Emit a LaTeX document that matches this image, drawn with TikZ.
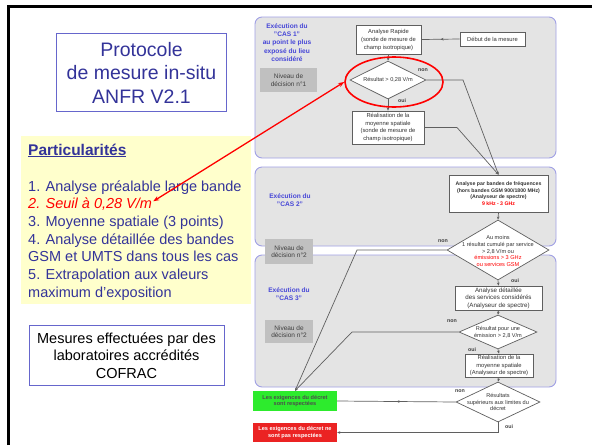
\documentclass[tikz,border=0pt]{standalone}
\usepackage{fontspec}
\setmainfont{Liberation Sans}
\usepackage{xcolor}
\usetikzlibrary{shapes.geometric,arrows.meta,positioning,calc,decorations.markings}
\definecolor{slideblue}{RGB}{51,51,153}
\definecolor{frameblue}{RGB}{102,102,204}
\definecolor{noteyellow}{RGB}{255,255,204}
\definecolor{panelgray}{RGB}{228,228,228}
\definecolor{panelrim}{RGB}{160,160,228}
\definecolor{levelgray}{RGB}{192,192,192}
\definecolor{flowgray}{RGB}{95,95,95}
\definecolor{casblue}{RGB}{70,70,215}
\definecolor{okgreen}{RGB}{45,235,45}
\definecolor{kored}{RGB}{235,35,35}

\begin{document}
\begin{tikzpicture}[x=1pt, y=-1pt,
  panel/.style={draw=panelrim, fill=panelgray, line width=0.9pt, rounded corners=7pt},
  fbox/.style={draw=flowgray, fill=white, line width=0.7pt, inner sep=0pt, align=center,
               text=black!80, font=\fontsize{5.8}{7.4}\selectfont},
  decide/.style={diamond, draw=flowgray, fill=white, line width=0.7pt, inner sep=0pt},
  dtext/.style={align=center, inner sep=0pt, text=black!80, font=\fontsize{5.6}{6.8}\selectfont},
  level/.style={fill=levelgray, inner sep=0pt, align=center, text=black!75,
                minimum width=57pt, minimum height=24pt, font=\fontsize{6.5}{7.6}\selectfont},
  cas/.style={align=center, text=casblue, font=\bfseries\fontsize{6.6}{8.2}\selectfont},
  answer/.style={inner sep=0pt, text=black!75, font=\bfseries\fontsize{5.3}{6}\selectfont},
  verdict/.style={inner sep=0pt, align=center, minimum width=84pt, minimum height=20pt,
                  font=\bfseries\fontsize{5.6}{6.8}\selectfont},
  flow/.style={draw=flowgray, line width=0.7pt, -{Stealth[length=3pt,width=2.6pt]}},
  midarr/.style={draw=flowgray, line width=0.7pt, postaction={decorate},
    decoration={markings, mark=at position 0.5 with {\arrow{Stealth[length=3pt,width=2.6pt]}}}},
  item/.style={anchor=base west, inner sep=0pt, text=slideblue,
               font=\fontsize{14.5}{17.7}\selectfont}
]
\useasboundingbox (0,0) rectangle (592,445);
% slide frame
\draw[line width=3pt] (8,445) -- (8,6) -- (592,6);

% left column
\node[draw=frameblue, line width=0.9pt, minimum width=170pt, minimum height=78pt, align=center,
      text=slideblue, font=\fontsize{19.5}{23.5}\selectfont] (title) at (141.5,72.5)
  {Protocole\\de mesure in-situ\\ANFR V2.1};

\fill[noteyellow] (21,136) rectangle (251,304);
\node[anchor=base west, inner sep=0pt, text=slideblue, font=\bfseries\fontsize{15.5}{18}\selectfont]
  (partic) at (28,155) {\underline{Particularités}};
\node[item] (item1) at (28,191) {1. Analyse préalable large bande};
\node[item, text=red, font=\itshape\fontsize{14.5}{17.7}\selectfont] (seuil) at (28,208.7)
  {2. Seuil à 0,28 V/m};
\foreach \txt [count=\i from 3] in {3. Moyenne spatiale (3 points), 4. Analyse détaillée des bandes,
    GSM et UMTS dans tous les cas, 5. Extrapolation aux valeurs, maximum d’exposition}
  \node[item] (item\i) at (28,{191+17.7*(\i-1)}) {\txt};

\node[draw=frameblue, line width=0.9pt, minimum width=195pt, minimum height=60pt, align=center,
      font=\fontsize{14.5}{17.7}\selectfont] (cofrac) at (126.5,355.5)
  {Mesures effectuées par des\\laboratoires accrédités\\COFRAC};

% flowchart panels
\draw[panel] (255,17) rectangle (556,158);
\draw[panel] (255,167) rectangle (556,246);
\draw[panel] (255,255) rectangle (556,387);

\node[cas] (cas1) at (287,42.5) {Exécution du\\"CAS 1"\\au point le plus\\exposé du lieu\\considéré};
\node[cas] (cas2) at (290,200) {Exécution du\\"CAS 2"};
\node[cas] (cas3) at (289,294) {Exécution du\\"CAS 3"};
\node[level] (niv1) at (288.5,80) {Niveau de\\décision n°1};
\node[level, minimum width=48pt, minimum height=25pt] (niv2a) at (289,251.5) {Niveau de\\décision n°2};
\node[level, minimum width=48pt, minimum height=23pt] (niv2b) at (289,331.5) {Niveau de\\décision n°2};

% CAS 1
\node[fbox, minimum width=65pt, minimum height=29pt, font=\fontsize{5.8}{8}\selectfont] (rapide) at (388.5,39.5)
  {Analyse Rapide\\(sonde de mesure de\\champ isotropique)};
\node[fbox, minimum width=65pt, minimum height=14pt] (debut) at (492.5,39) {Début de la mesure};
\node[decide, minimum width=76pt, minimum height=38pt] (d1) at (388,80) {};
\node[dtext] (d1txt) at (d1) {Résultat > 0,28 V/m};
\node[fbox, minimum width=72pt, minimum height=33pt] (moy1) at (388,127.5)
  {Réalisation de la\\moyenne spatiale\\(sonde de mesure de\\champ isotropique)};

% CAS 2
\node[fbox, minimum width=99pt, minimum height=37pt, font=\bfseries\fontsize{5.2}{6.7}\selectfont] (bandes) at (498.5,193.5)
  {Analyse par bandes de fréquences\\(hors bandes GSM 900/1800 MHz)\\(Analyseur de spectre)\\\textcolor{red}{9 kHz - 3 GHz}};
\node[decide, minimum width=102pt, minimum height=60pt] (d2) at (498,250) {};
\node[dtext] (d2txt) at (498,251) {Au moins\\1 résultat cumulé par service\\> 2,8 V/m ou\\\textcolor{red}{émissions > 3 GHz}\\\textcolor{red}{ou services GSM}};

% CAS 3
\node[fbox, minimum width=87pt, minimum height=24pt, font=\fontsize{6.2}{7.4}\selectfont] (detail) at (498.5,298)
  {Analyse détaillée\\des services considérés\\(Analyseur de spectre)};
\node[decide, minimum width=78pt, minimum height=34pt] (d3) at (498,332) {};
\node[dtext] (d3txt) at (d3) {Résultat pour une\\émission > 2,8 V/m};
\node[fbox, minimum width=68pt, minimum height=23pt] (moy3) at (499,365.5)
  {Réalisation de la\\moyenne spatiale\\(Analyseur de spectre)};
\node[decide, minimum width=84pt, minimum height=40pt] (d4) at (498,402) {};
\node[dtext] (d4txt) at (d4) {Résultats\\supérieurs aux limites du\\décret};

% outcomes
\node[verdict, fill=okgreen, text=black!70] (ok) at (295,401) {Les exigences du décret\\sont respectées};
\node[verdict, fill=kored, text=white, minimum height=19pt] (ko) at (295,432.5)
  {Les exigences du décret ne\\sont pas respectées};

\node[answer] (n1) at (423,70) {non};
\node[answer] (o1) at (402,101) {oui};
\node[answer] (n2) at (443,241) {non};
\node[answer] (o2) at (515,281) {oui};
\node[answer] (n3) at (452,321) {non};
\node[answer] (o3) at (472,350) {oui};
\node[answer] (n4) at (460,391) {non};
\node[answer] (o4) at (509,427) {oui};

\draw[midarr] (debut.west) -- (rapide.east);
\draw[flow] (rapide.south) -- (d1.north);
\draw[flow] (d1.south) -- (moy1.north);
\draw[flow] (d1.east) -- (463,80) -- (bandes.north);
\draw[flow] (moy1.east) -- (457,127.5) -- (bandes.north);
\draw[flow] (bandes.south) -- (d2.north);
\draw[flow] (d2.west) -- (357,250) -- (ok.north);
\draw[flow] (d2.south) -- (detail.north);
\draw[flow] (detail.south) -- (d3.north);
\draw[flow] (d3.west) -- (352,332) -- (ok.north);
\draw[flow] (d3.south) -- (moy3.north);
\draw[flow] (moy3.south) -- (d4.north);
\draw[midarr] (d4.west) -- (ok.east);
\draw[flow] (d4.south) |- (ko.east);

% highlight of the threshold
\node[ellipse, draw=red, line width=1.6pt, minimum width=98pt, minimum height=50pt] (focus) at (394,82) {};
\draw[red, line width=1.3pt, {Stealth[length=6pt]}-{Stealth[length=6pt]}] ([xshift=1pt,yshift=3pt]seuil.east) -- (focus.west);
\end{tikzpicture}
\end{document}
